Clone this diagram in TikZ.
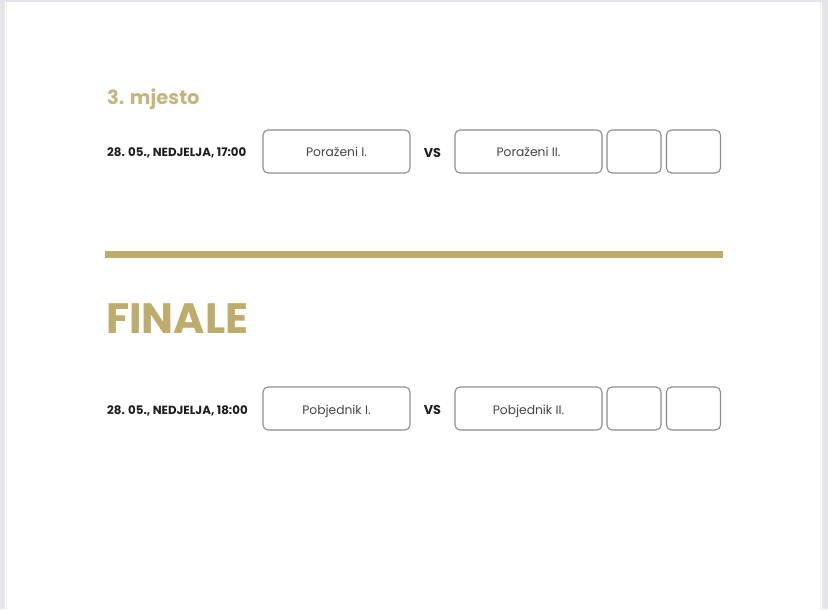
\documentclass[tikz,border=0pt]{standalone}
\usepackage{fontspec}
\setmainfont{Poppins}
\definecolor{gold}{RGB}{189,172,108}
\definecolor{goldlight}{RGB}{196,182,126}
\definecolor{boxline}{RGB}{140,140,140}
\definecolor{pagebg}{RGB}{228,228,234}
\definecolor{txt}{RGB}{30,30,30}
\definecolor{boxtxt}{RGB}{70,70,70}
\begin{document}
\begin{tikzpicture}[x=1pt,y=-1pt,
  slot/.style={draw=boxline,line width=1.1pt,rounded corners=5pt,minimum height=43pt,inner sep=0pt,
    text height=11pt,text depth=0pt,
    font=\fontsize{12.3}{14}\selectfont,text=boxtxt},
  wide/.style={slot,minimum width=147pt},
  narrow/.style={slot,minimum width=54pt},
  datetxt/.style={anchor=base west,inner sep=0pt,font=\bfseries\fontsize{11.8}{14}\selectfont,text=txt},
  vstxt/.style={anchor=base,inner sep=0pt,font=\bfseries\fontsize{12.8}{15}\selectfont,text=txt}]
\fill[pagebg] (0,0) rectangle (828,609);
\fill[white] (5,2) rectangle (822,609);
\draw[white!85!gray,line width=0.6pt] (6.5,2) -- (6.5,609);
\draw[white!85!gray,line width=0.6pt] (820.5,2) -- (820.5,609);
\useasboundingbox (0,0) rectangle (828,609);

% 3. mjesto
\node[anchor=base west,inner sep=0pt,text=goldlight,font=\bfseries\fontsize{19.5}{22}\selectfont] (t3) at (107,105) {3. mjesto};
\node[datetxt] (d1) at (107,157) {28. 05., NEDJELJA, 17:00};
\node[wide] (a1) at (336.5,151.5) {Poraženi I.};
\node[vstxt] (vs1) at (432.5,157.5) {VS};
\node[wide] (b1) at (528.5,151.5) {Poraženi II.};
\node[narrow] (c1) at (634,151.5) {};
\node[narrow] (e1) at (693.5,151.5) {};

% divider
\coordinate (l1) at (105,254.5);
\coordinate (l2) at (723,254.5);
\draw[gold,line width=6.5pt] (l1) -- (l2);

% FINALE
\node[anchor=base west,inner sep=0pt,text=gold,font=\bfseries\fontsize{42.5}{46}\selectfont] (tf) at (106,334) {FINALE};
\node[datetxt] (d2) at (107,414) {28. 05., NEDJELJA, 18:00};
\node[wide] (a2) at (336.5,408.5) {Pobjednik I.};
\node[vstxt] (vs2) at (432.5,414.5) {VS};
\node[wide] (b2) at (528.5,408.5) {Pobjednik II.};
\node[narrow] (c2) at (634,408.5) {};
\node[narrow] (e2) at (693.5,408.5) {};
\end{tikzpicture}
\end{document}
